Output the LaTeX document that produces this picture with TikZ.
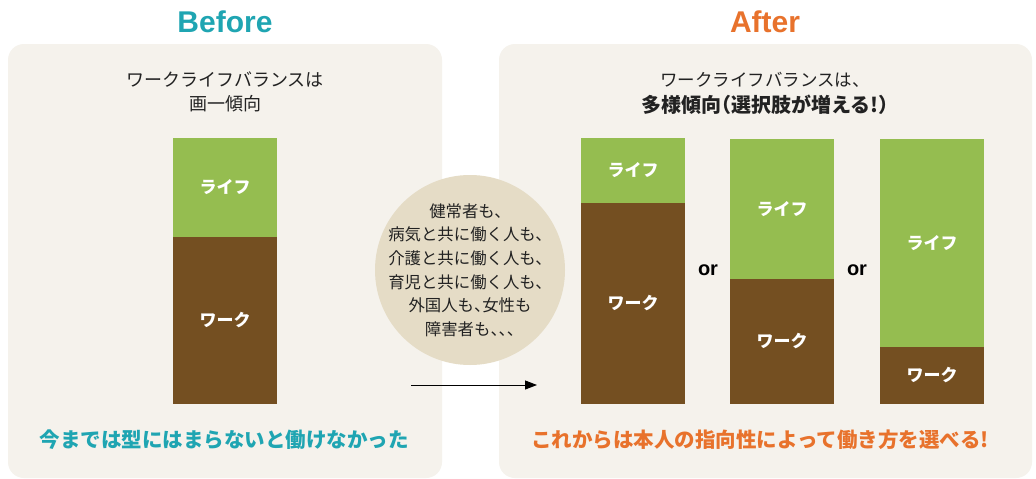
\documentclass[tikz,border=0pt]{standalone}
\usepackage{fontspec}
\setmainfont{Noto Sans CJK JP}
\newfontfamily\halffont[RawFeature=+halt]{Noto Sans CJK JP}
\newfontfamily\latinfont{Liberation Sans}
\usetikzlibrary{arrows.meta}
\definecolor{panelbg}{HTML}{F5F2EC}
\definecolor{circbg}{HTML}{E5DCC6}
\definecolor{lifegreen}{HTML}{95BD50}
\definecolor{workbrown}{HTML}{744F21}
\definecolor{teal}{HTML}{1FA5B2}
\definecolor{orangec}{HTML}{E8722C}
\definecolor{textdark}{HTML}{222222}
\newcommand{\hw}[1]{{\halffont #1}}
\tikzset{
  panel/.style={fill=panelbg, rounded corners=16pt},
  seg/.style={inner sep=0pt, minimum width=104pt, text=white, font=\fontsize{17}{20}\selectfont\bfseries},
  lifeseg/.style={seg, fill=lifegreen},
  workseg/.style={seg, fill=workbrown},
  heading/.style={font=\latinfont\fontsize{30}{34}\selectfont\bfseries},
  ortext/.style={font=\latinfont\fontsize{20}{24}\selectfont\bfseries, text=black},
  caption/.style={font=\fontsize{20.5}{24}\selectfont\bfseries},
}
\begin{document}
\begin{tikzpicture}[x=1pt,y=-1pt]
\useasboundingbox (0,0) rectangle (1036,479);
\fill[white] (0,0) rectangle (1036,479);
% panels
\fill[panel] (8,44) rectangle (442,478);
\fill[panel] (499,44) rectangle (1032,478);
% headings
\node[heading, text=teal] (hb) at (225,22) {Before};
\node[heading, text=orangec] (ha) at (765,22) {After};
% top texts
\node[align=center, text=textdark, font=\fontsize{18}{24}\selectfont] (tl) at (225,92) {ワークライフバランスは\\画一傾向};
\node[align=center, text=textdark, font=\fontsize{17.5}{26}\selectfont] (tr) at (765,93) {ワークライフバランスは、\\{\fontsize{20}{26}\selectfont\bfseries 多様傾向\hw{（}選択肢が増える!\hw{）}}};
% left bar
\node[lifeseg, minimum height=99pt] (l0) at (225,187.5) {ライフ};
\node[workseg, minimum height=167pt] (w0) at (225,320.5) {ワーク};
% right bars
\node[lifeseg, minimum height=65pt] (l1) at (633,170.5) {ライフ};
\node[workseg, minimum height=201pt] (w1) at (633,303.5) {ワーク};
\node[lifeseg, minimum height=140pt] (l2) at (782,209) {ライフ};
\node[workseg, minimum height=125pt] (w2) at (782,341.5) {ワーク};
\node[lifeseg, minimum height=208pt] (l3) at (932,243) {ライフ};
\node[workseg, minimum height=57pt] (w3) at (932,375.5) {ワーク};
\node[ortext] (or1) at (708,270) {or};
\node[ortext] (or2) at (857,270) {or};
% circle
\node[circle, fill=circbg, minimum size=190pt, inner sep=0pt] (c) at (470,270) {};
\node[align=center, text=textdark, inner sep=0pt,
      font=\fontsize{16.4}{23.6}\selectfont] (ct) at (c.center)
  {健常者も、\\病気と共に働く人も、\\介護と共に働く人も、\\育児と共に働く人も、\\外国人も\hw{、}女性も\\障害者も\hw{、、、}};
% arrow
\coordinate (a0) at (411,385);
\coordinate (a1) at (537,385);
\draw[line width=1pt, -{Triangle[length=12pt,width=9pt]}] (a0) -- (a1);
% captions
\node[caption, text=teal] (cl) at (224,440) {今までは型にはまらないと働けなかった};
\node[caption, text=orangec] (cr) at (760,440) {これからは本人の指向性によって働き方を選べる!};
\end{tikzpicture}
\end{document}
